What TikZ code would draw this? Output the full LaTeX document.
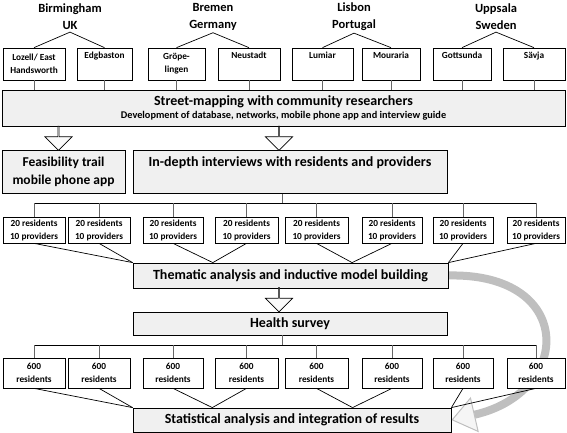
\documentclass[tikz,border=0pt]{standalone}
\usepackage{fontspec}
\setmainfont{Carlito}
\usetikzlibrary{calc,shapes.arrows,arrows.meta,backgrounds}
\begin{document}
\begin{tikzpicture}[x=1pt, y=-1pt,
    city/.style={align=center, inner sep=2pt, font=\bfseries\fontsize{12.5}{17}\selectfont},
    place/.style={draw, line width=0.7pt, fill=white, align=center, inner sep=1pt, font=\bfseries\fontsize{9.3}{13}\selectfont},
    mainbox/.style={draw, line width=0.8pt, fill=black!6, align=center, inner sep=2pt, font=\bfseries\fontsize{14}{18}\selectfont},
    tick/.style={draw=black!60, line width=0.7pt},
    fan/.style={line width=0.7pt},
    blockarrow/.style={draw, line width=0.7pt, fill=black!2, single arrow, rotate=-90, minimum height=24pt, minimum width=27pt, single arrow head extend=7pt, inner sep=0pt},
    loopback/.style={draw=black!25, line width=8pt, -{Triangle[length=24pt, width=36pt, fill=black!4, line width=1pt]}}]
        \useasboundingbox (0,0) rectangle (567,433);

        % cities and neighbourhoods
        \node[city] (bham) at (70,17) {Birmingham\\UK};
        \node[city] (brem) at (213,17) {Bremen\\Germany};
        \node[city] (lisb) at (354,17) {Lisbon\\Portugal};
        \node[city] (upps) at (496,17) {Uppsala\\Sweden};

        \node[place, minimum width=62, minimum height=32] (lozell) at (34,64) {Lozell/ East\\Handsworth};
        \node[place, minimum width=55, minimum height=32] (edgb) at (104.5,64) {Edgbaston\\\strut};
        \node[place, minimum width=57, minimum height=32] (groep) at (176.5,64) {Gröpe-\\lingen};
        \node[place, minimum width=62, minimum height=32] (neust) at (249,64) {Neustadt\\\strut};
        \node[place, minimum width=61, minimum height=32] (lumiar) at (322.5,64) {Lumiar\\\strut};
        \node[place, minimum width=58, minimum height=32] (mour) at (391,64) {Mouraria\\\strut};
        \node[place, minimum width=58, minimum height=32] (gotts) at (462,64) {Gottsunda\\\strut};
        \node[place, minimum width=62, minimum height=32] (savja) at (534,64) {Sävja\\\strut};

        \draw[fan] (lozell.north) -- (bham.south) -- (edgb.north);
        \draw[fan] (groep.north) -- (brem.south) -- (neust.north);
        \draw[fan] (lumiar.north) -- (lisb.south) -- (mour.north);
        \draw[fan] (gotts.north) -- (upps.south) -- (savja.north);

        % main steps
        \node[mainbox, minimum width=563, minimum height=36, font=\bfseries\fontsize{10.3}{13}\selectfont] (street) at (283.5,108)
            {{\fontsize{14}{13}\selectfont Street-mapping with community researchers}\\Development of database, networks, mobile phone app and interview guide};
        \node[mainbox, minimum width=123, minimum height=43, font=\bfseries\fontsize{13.5}{18}\selectfont] (feas) at (63.5,171.5) {Feasibility trail\\mobile phone app};
        \node[mainbox, minimum width=314, text height=14pt, text depth=25pt, anchor=north] (indepth) at (290,150) {In-depth interviews with residents and providers};
        \node[mainbox, minimum width=315, minimum height=25] (them) at (290.5,275.5) {Thematic analysis and inductive model building};
        \node[mainbox, minimum width=314, minimum height=23] (health) at (290,323.5) {Health survey};
        \node[mainbox, minimum width=318, minimum height=24] (stat) at (292,420) {Statistical analysis and integration of results};

        \foreach \n in {lozell,edgb,groep,neust,lumiar,mour,gotts,savja}
            \draw[tick] (\n.south) -- (\n.south |- street.north);

        \node[blockarrow] (arrfeas) at (58.5,138) {};
        \node[blockarrow] (arrint) at (279,138) {};
        \node[blockarrow] (arrsrv) at (279,299.5) {};

        % interview and survey samples
        \foreach \x/\w [count=\i] in {34/62, 99/62, 173/60, 246.5/63, 316.5/63, 392/60, 463/60, 536/58} {
            \node[place, minimum width=\w, minimum height=26] (int\i) at (\x,230) {20 residents\\10 providers};
            \node[place, minimum width=\w, minimum height=30] (srv\i) at (\x,373) {600\\residents};
        }

        \coordinate (bar1) at (282,203);
        \coordinate (bar2) at (282,345);
        \draw[tick] (indepth.south -| bar1) -- (bar1);
        \draw[tick] (health.south -| bar2) -- (bar2);
        \draw[fan] (int1.north |- bar1) -- (int8.north |- bar1);
        \draw[fan] (srv1.north |- bar2) -- (srv8.north |- bar2);

        \coordinate (tA) at (them.north west);
        \coordinate (tB) at ($(them.north west)!0.254!(them.north east)$);
        \coordinate (tC) at ($(them.north west)!0.695!(them.north east)$);
        \coordinate (tD) at (them.north east);
        \coordinate (stA) at (stat.north west);
        \coordinate (stB) at ($(stat.north west)!0.25!(stat.north east)$);
        \coordinate (stC) at ($(stat.north west)!0.69!(stat.north east)$);
        \coordinate (stD) at (stat.north east);

        \foreach \i/\t in {1/A,2/A,3/B,4/B,5/C,6/C,7/D,8/D} {
            \draw[tick] (int\i.north |- bar1) -- (int\i.north);
            \draw[tick] (srv\i.north |- bar2) -- (srv\i.north);
            \draw[fan] (int\i.south) -- (t\t);
            \draw[fan] (srv\i.south) -- (st\t);
        }

        % feedback from the interviews into the analysis
        \begin{scope}[on background layer]
            \draw[loopback] (them.east) .. controls +(127,-3) and +(122,-28) .. (stat.east);
        \end{scope}
\end{tikzpicture}
\end{document}
